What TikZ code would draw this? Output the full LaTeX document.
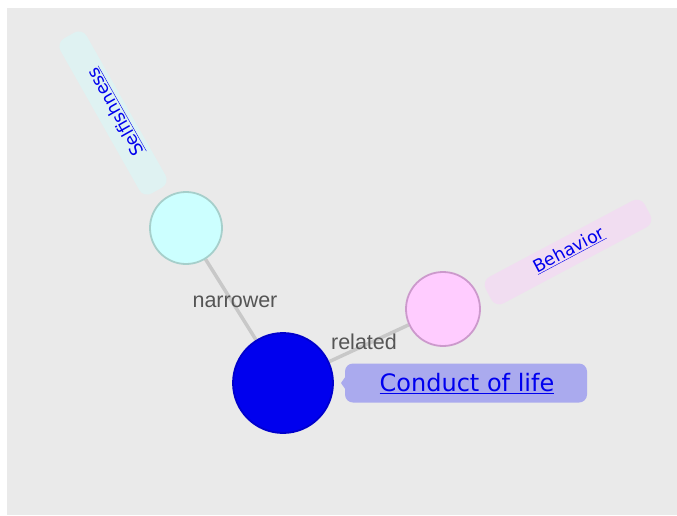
\documentclass[tikz,border=0pt]{standalone}
\usepackage{fontspec}
\setmainfont{DejaVu Sans}
\newfontfamily\edgefont{Liberation Sans}
\definecolor{bg}{HTML}{EAEAEA}
\definecolor{edgec}{HTML}{C8C8C8}
\definecolor{lnk}{HTML}{0000EE}
\definecolor{selfill}{HTML}{CCFFFF}
\definecolor{seldraw}{HTML}{A6CFCB}
\definecolor{behfill}{HTML}{FFCCFF}
\definecolor{behdraw}{HTML}{CC99CC}
\definecolor{confill}{HTML}{0000EE}
\definecolor{condraw}{HTML}{0000CC}
\definecolor{conlab}{HTML}{AAAAEE}
\definecolor{sellab}{HTML}{DFF2F2}
\definecolor{behlab}{HTML}{F1DDF1}
\definecolor{edgetext}{HTML}{555555}
\tikzset{
  topic/.style={circle, line width=1.8pt, inner sep=0pt},
  edge/.style={draw=edgec, line width=3.5pt},
  elabel/.style={text=edgetext, font=\edgefont\fontsize{21.5}{24}\selectfont, inner sep=1pt},
  tlabel/.style={rounded corners=9pt, inner sep=0pt},
  ltext/.style={text=lnk, font=\fontsize{17.5}{20}\selectfont, inner sep=0pt},
}
\begin{document}
\begin{tikzpicture}[x=1pt,y=-1pt]
\useasboundingbox (0,0) rectangle (677,515);
\fill[bg] (7,8) rectangle (677,515);
% label boxes
\node[tlabel, fill=sellab, rotate=-60.5, minimum width=178, minimum height=30] (selbox) at (113,113) {};
\node[ltext, rotate=119.5] (seltext) at (116,112) {\underline{Selfishness}};
\node[tlabel, fill=behlab, rotate=28, minimum width=180, minimum height=30] (behbox) at (568,252) {};
\node[ltext, rotate=28] (behtext) at (569,250) {\underline{Behavior}};
% topics
\node[topic, minimum size=72] (sel) at (186,228) {};
\node[topic, minimum size=74] (beh) at (443,309) {};
\node[topic, minimum size=100] (con) at (283,383) {};
\path[edge] (sel) -- (con);
\path[edge] (beh) -- (con);
\node[topic, fill=selfill, draw=seldraw, minimum size=72] at (sel) {};
\node[topic, fill=behfill, draw=behdraw, minimum size=74] at (beh) {};
\node[topic, fill=confill, draw=condraw, minimum size=100] at (con) {};
\node[elabel] (nar) at (235,302) {narrower};
\node[elabel] (rel) at (364,342) {related};
% conduct label
\node[tlabel, fill=conlab, minimum width=242, minimum height=39, rounded corners=8pt] (conbox) at (466,383) {};
\fill[conlab] (348,373) -- (341,383) -- (348,393) -- cycle;
\node[text=lnk, font=\fontsize{24}{28}\selectfont, inner sep=0pt] (context) at (467,384) {\underline{Conduct of life}};
\end{tikzpicture}
\end{document}
